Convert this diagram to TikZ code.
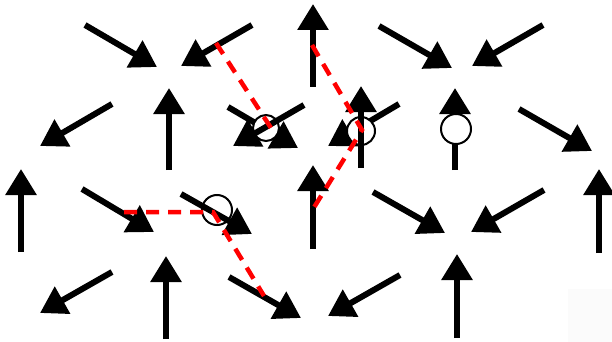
\documentclass[tikz,border=0pt]{standalone}
\usetikzlibrary{arrows.meta}
\tikzset{
  spin/.style={line width=6pt, -{Triangle[length=26pt,width=30pt]}},
  hole/.style={draw=black, line width=2pt},
  path/.style={red, line width=4.5pt, dash pattern=on 13pt off 9pt},
}
\begin{document}
\begin{tikzpicture}[x=1pt,y=-1pt]
\useasboundingbox (0,0) rectangle (612,342);
\fill[white] (0,0) rectangle (612,342);
\fill[black!1.5] (568,289) rectangle (612,342);
% coordinates: tails (t) and tips (h)
\coordinate (t1) at (85,25);   \coordinate (h1) at (157,67);
\coordinate (t2) at (252,25);  \coordinate (h2) at (181,66);
\coordinate (t3) at (313,87);  \coordinate (h3) at (313,4);
\coordinate (t4) at (379,26);  \coordinate (h4) at (452,68);
\coordinate (t5) at (543,25);  \coordinate (h5) at (472,66);
\coordinate (t6) at (112,104); \coordinate (h6) at (40,146);
\coordinate (t7) at (169,170); \coordinate (h7) at (169,88);
\coordinate (t8) at (228,107); \coordinate (h8) at (298,148);
\coordinate (t9) at (304,105); \coordinate (h9) at (233,146);
\coordinate (t10) at (399,104); \coordinate (h10) at (328,146);
\coordinate (t11) at (361,168); \coordinate (h11) at (361,86);
\coordinate (t12) at (455,170); \coordinate (h12) at (455,88);
\coordinate (t13) at (519,109); \coordinate (h13) at (592,151);
\coordinate (t14) at (21,252);  \coordinate (h14) at (21,169);
\coordinate (t15) at (82,189);  \coordinate (h15) at (154,232);
\coordinate (t16) at (181,194); \coordinate (h16) at (252,234);
\coordinate (t17) at (313,249); \coordinate (h17) at (313,165);
\coordinate (t18) at (373,192); \coordinate (h18) at (445,233);
\coordinate (t19) at (544,190); \coordinate (h19) at (471,232);
\coordinate (t20) at (599,253); \coordinate (h20) at (599,169);
\coordinate (t21) at (112,272); \coordinate (h21) at (40,313);
\coordinate (t22) at (166,339); \coordinate (h22) at (166,256);
\coordinate (t23) at (229,277); \coordinate (h23) at (301,318);
\coordinate (t24) at (400,275); \coordinate (h24) at (328,316);
\coordinate (t25) at (457,338); \coordinate (h25) at (457,254);
% holes
\coordinate (c1) at (266,128);
\coordinate (c2) at (361,131);
\coordinate (c3) at (456,129);
\coordinate (c4) at (217,210);
% plain spins
\foreach \i in {1,2,3,4,5,6,7,13,14,15,17,18,19,20,21,22,23,24,25}
  \draw[spin] (t\i) -- (h\i);
% hole at c4: drawn beneath its spin
\draw[hole] (c4) circle (15pt);
\draw[spin] (t16) -- (h16);
% hole at c1
\draw[spin] (t8) -- (h8);
\draw[hole, fill=white] (c1) circle (13pt);
\draw[spin] (t9) -- (h9);
% hole at c2
\draw[spin] (t10) -- (h10);
\draw[hole, fill=white] (c2) circle (14pt);
\draw[spin] (t11) -- (h11);
% hole at c3
\draw[spin] (t12) -- (h12);
\draw[hole, fill=white] (c3) circle (15pt);
% red dashed paths
\coordinate (pA0) at (216,43);  \coordinate (pA1) at (271,128);
\coordinate (pB0) at (312,45);  \coordinate (pB1) at (362,130); \coordinate (pB2) at (313,209);
\coordinate (pC0) at (124,212); \coordinate (pC1) at (213,212); \coordinate (pC2) at (264,296);
\draw[path] (pA0) -- (pA1);
\draw[path] (pB0) -- (pB1) -- (pB2);
\draw[path] (pC0) -- (pC1) -- (pC2);
\end{tikzpicture}
\end{document}
